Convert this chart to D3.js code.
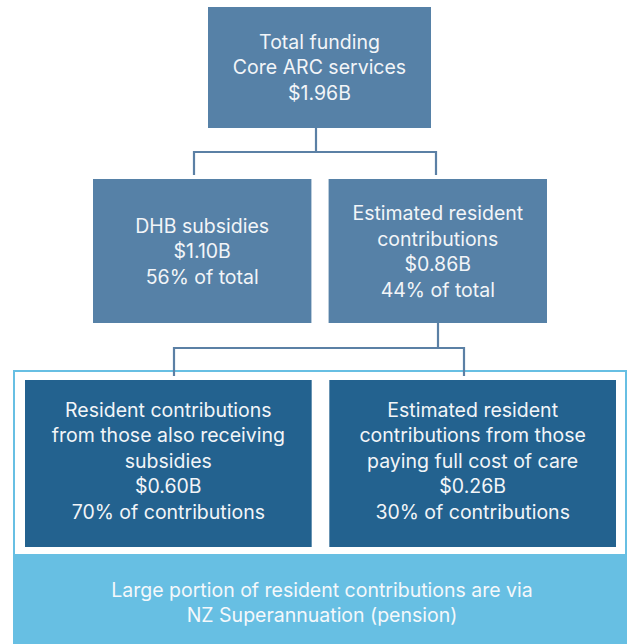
<!DOCTYPE html>
<html><head><meta charset="utf-8">
<script src="https://cdn.jsdelivr.net/npm/d3@7"></script>
<style>html,body{margin:0;padding:0;background:#fff;}svg{display:block;}</style>
</head><body>
<script>
// Data
const topNode = ["Total funding", "Core ARC services", "$1.96B"];
const levelTwo = [
  ["DHB subsidies", "$1.10B", "56% of total"],
  ["Estimated resident", "contributions", "$0.86B", "44% of total"]
];
const levelThree = [
  ["Resident contributions", "from those also receiving", "subsidies", "$0.60B", "70% of contributions"],
  ["Estimated resident", "contributions from those", "paying full cost of care", "$0.26B", "30% of contributions"]
];
const footnote = ["Large portion of resident contributions are via", "NZ Superannuation (pension)"];

const W = 630, H = 644;
const svg = d3.select("body").append("svg").attr("width", W).attr("height", H);

const C1 = "#5681a7", C3 = "#23628f", CL = "#67bfe3", CLINE = "#5b80a5";
const fontFam = "Inter, 'Open Sans', sans-serif";
const fs = 19.5, lh = 25.5;

// scales for positions
const x2 = d3.scaleBand().domain(d3.range(levelTwo.length)).range([93, 547]).paddingInner(0.073);
const x3 = d3.scaleBand().domain(d3.range(levelThree.length)).range([25, 616]).paddingInner(0.058);

const boxes = [];
boxes.push({x: 208, y: 7, w: 223, h: 121, fill: C1, lines: topNode, cy: 67.5});
levelTwo.forEach((l, i) => boxes.push({x: x2(i), y: 179, w: x2.bandwidth(), h: 144, fill: C1, lines: l, cy: 251.5}));

// frame and footnote area
svg.append("rect").attr("x", 13).attr("y", 555).attr("width", 614).attr("height", 89).attr("fill", CL);
svg.append("rect").attr("x", 14).attr("y", 371).attr("width", 612).attr("height", 184)
  .attr("fill", "none").attr("stroke", CL).attr("stroke-width", 2);

levelThree.forEach((l, i) => boxes.push({x: x3(i), y: 380, w: x3.bandwidth(), h: 167, fill: C3, lines: l, cy: 461}));

const g = svg.selectAll("g.box").data(boxes).join("g").attr("class", "box");
g.append("rect").attr("x", d => d.x).attr("y", d => d.y).attr("width", d => d.w).attr("height", d => d.h).attr("fill", d => d.fill);
g.each(function(d) {
  const n = d.lines.length;
  d3.select(this).selectAll("text").data(d.lines).join("text")
    .attr("x", d.x + d.w / 2)
    .attr("y", (t, i) => d.cy + (i - (n - 1) / 2) * lh)
    .attr("dy", "0.35em")
    .attr("text-anchor", "middle")
    .attr("fill", "#f2f5f8")
    .attr("font-family", fontFam)
    .attr("font-size", fs)
    .text(t => t);
});

// connectors
const line = d3.line();
const conn = [
  [[316, 128], [316, 152]],
  [[194, 175], [194, 152], [436, 152], [436, 175]],
  [[438, 323], [438, 348]],
  [[174, 376], [174, 348], [464, 348], [464, 376]]
];
svg.selectAll("path.conn").data(conn).join("path").attr("class", "conn")
  .attr("d", d => line(d)).attr("fill", "none").attr("stroke", CLINE).attr("stroke-width", 2.2);

svg.selectAll("text.foot").data(footnote).join("text").attr("class", "foot")
  .attr("x", 322).attr("y", (t, i) => 590 + i * 25.5).attr("dy", "0.35em")
  .attr("text-anchor", "middle").attr("fill", "#f4f8fb")
  .attr("font-family", fontFam).attr("font-size", fs).text(t => t);
</script>
</body></html>
